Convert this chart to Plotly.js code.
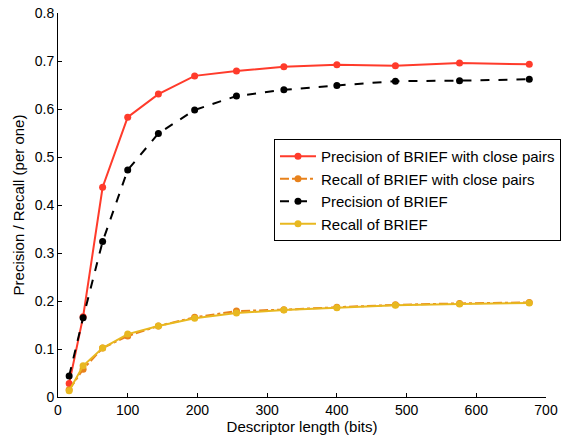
<!DOCTYPE html>
<html>
<head>
<meta charset="utf-8">
<script src="https://cdn.plot.ly/plotly-3.0.1.min.js"></script>
<style>html,body{margin:0;padding:0;background:#fff;}#chart{width:561px;height:441px;}</style>
</head>
<body>
<div id="chart"></div>
<script>
const descriptorBits = [16, 36, 64, 100, 144, 196, 256, 324, 400, 484, 576, 676];
const precisionClose = [0.028, 0.167, 0.437, 0.583, 0.631, 0.669, 0.679, 0.688, 0.692, 0.690, 0.696, 0.693];
const recallClose    = [0.015, 0.058, 0.102, 0.127, 0.148, 0.166, 0.179, 0.182, 0.187, 0.192, 0.195, 0.197];
const precisionBrief = [0.044, 0.165, 0.324, 0.473, 0.549, 0.598, 0.627, 0.640, 0.649, 0.658, 0.659, 0.662];
const recallBrief    = [0.013, 0.065, 0.102, 0.131, 0.148, 0.164, 0.175, 0.181, 0.186, 0.191, 0.194, 0.196];
const seriesNames = [
  'Precision of BRIEF with close pairs',
  'Recall of BRIEF with close pairs',
  'Precision of BRIEF',
  'Recall of BRIEF'
];
const xTicks = [0, 100, 200, 300, 400, 500, 600, 700];
const yTicks = [0, 0.1, 0.2, 0.3, 0.4, 0.5, 0.6, 0.7, 0.8];
const yTickText = ['0', '0.1', '0.2', '0.3', '0.4', '0.5', '0.6', '0.7', '0.8'];

const FONT = 'Liberation Sans, Arial, sans-serif';
function tr(y, name, color, dash, msize) {
  return {
    x: descriptorBits, y: y, name: name, type: 'scatter', mode: 'lines+markers',
    line: {color: color, width: 2, dash: dash},
    marker: {color: color, size: msize, symbol: 'circle'}
  };
}
const data = [
  tr(precisionClose, seriesNames[0], '#ff3b2b', 'solid', 7),
  tr(recallClose, seriesNames[1], '#e8821c', 'dashdot', 7),
  tr(precisionBrief, seriesNames[2], '#000000', 'dash', 7),
  tr(recallBrief, seriesNames[3], '#e8b820', 'solid', 7)
];
const axisCommon = {
  showgrid: false, zeroline: false, showline: true, linecolor: '#000', linewidth: 1,
  ticks: 'inside', ticklen: 4, tickcolor: '#000', mirror: false, automargin: false,
  tickfont: {family: FONT, size: 14, color: '#000'}
};
const layout = {
  width: 561, height: 441,
  margin: {l: 58, r: 15, t: 13, b: 44, autoexpand: false},
  paper_bgcolor: '#fff', plot_bgcolor: '#fff',
  showlegend: true,
  legend: {
    x: 0.4426, y: 0.672, xanchor: 'left', yanchor: 'top',
    bgcolor: '#fff', bordercolor: '#000', borderwidth: 1, itemwidth: 36,
    font: {family: FONT, size: 15, color: '#000'}
  },
  xaxis: Object.assign({}, axisCommon, {
    range: [0, 700], tickvals: xTicks, ticktext: xTicks.map(String),
    title: {text: 'Descriptor length (bits)', font: {family: FONT, size: 15, color: '#000'}, standoff: 2}
  }),
  yaxis: Object.assign({}, axisCommon, {
    range: [0, 0.8], tickvals: yTicks, ticktext: yTickText,
    title: {text: 'Precision / Recall (per one)', font: {family: FONT, size: 15, color: '#000'}, standoff: 6}
  })
};
Plotly.newPlot('chart', data, layout, {staticPlot: true, displayModeBar: false});
</script>
</body>
</html>
